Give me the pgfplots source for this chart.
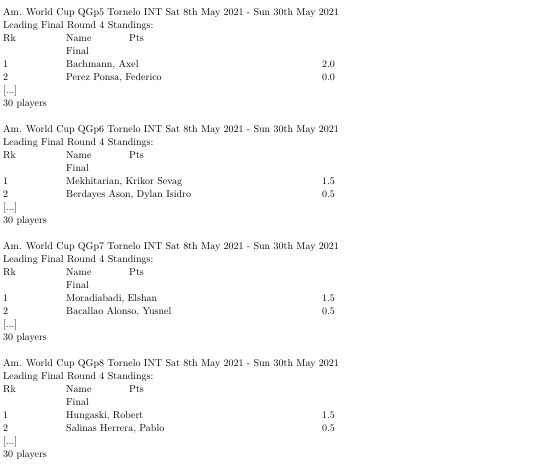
\documentclass[border=0pt]{standalone}
\usepackage{pgfplots}
\pgfplotsset{compat=1.18}
\usepackage{fontspec}
\setmonofont{DejaVu Sans Mono}
\newcommand\tl[3]{\edef\temp{\noexpand\node[anchor=base west,inner sep=0pt] at (axis cs:#1,#2) {#3};}\temp}
\begin{document}
\begin{tikzpicture}
\begin{axis}[width=540pt,height=465pt,scale only axis,hide axis,xmin=0,xmax=540,ymin=0,ymax=465,clip=false,
  every node/.append style={font=\ttfamily\fontsize{12.6}{13}\selectfont}]
\addplot[draw=none] coordinates {(0,0) (540,465)};
\foreach \b/\g/\na/\pa/\nb/\pb in {0/5/{Bachmann, Axel}/2.0/{Perez Ponsa, Federico}/0.0,
  1/6/{Mekhitarian, Krikor Sevag}/1.5/{Berdayes Ason, Dylan Isidro}/0.5,
  2/7/{Moradiabadi, Elshan}/1.5/{Bacallao Alonso, Yusnel}/0.5,
  3/8/{Hungaski, Robert}/1.5/{Salinas Herrera, Pablo}/0.5}{
  \pgfmathsetmacro\y{465-16-117*\b}
  \tl{3}{\y}{Am. World Cup QGp\g\space Tornelo INT Sat 8th May 2021 - Sun 30th May 2021}
  \pgfmathsetmacro\y{465-16-117*\b-13}\tl{3}{\y}{Leading Final Round 4 Standings:}
  \pgfmathsetmacro\y{465-16-117*\b-26}\tl{3}{\y}{Rk}\tl{66}{\y}{Name}\tl{129}{\y}{Pts}
  \pgfmathsetmacro\y{465-16-117*\b-39}\tl{66}{\y}{Final}
  \pgfmathsetmacro\y{465-16-117*\b-52}\tl{3}{\y}{1}\tl{66}{\y}{\na}\tl{322}{\y}{\pa}
  \pgfmathsetmacro\y{465-16-117*\b-65}\tl{3}{\y}{2}\tl{66}{\y}{\nb}\tl{322}{\y}{\pb}
  \pgfmathsetmacro\y{465-16-117*\b-78}\tl{3}{\y}{[...]}
  \pgfmathsetmacro\y{465-16-117*\b-91}\tl{3}{\y}{30 players}
}
\end{axis}
\end{tikzpicture}
\end{document}
